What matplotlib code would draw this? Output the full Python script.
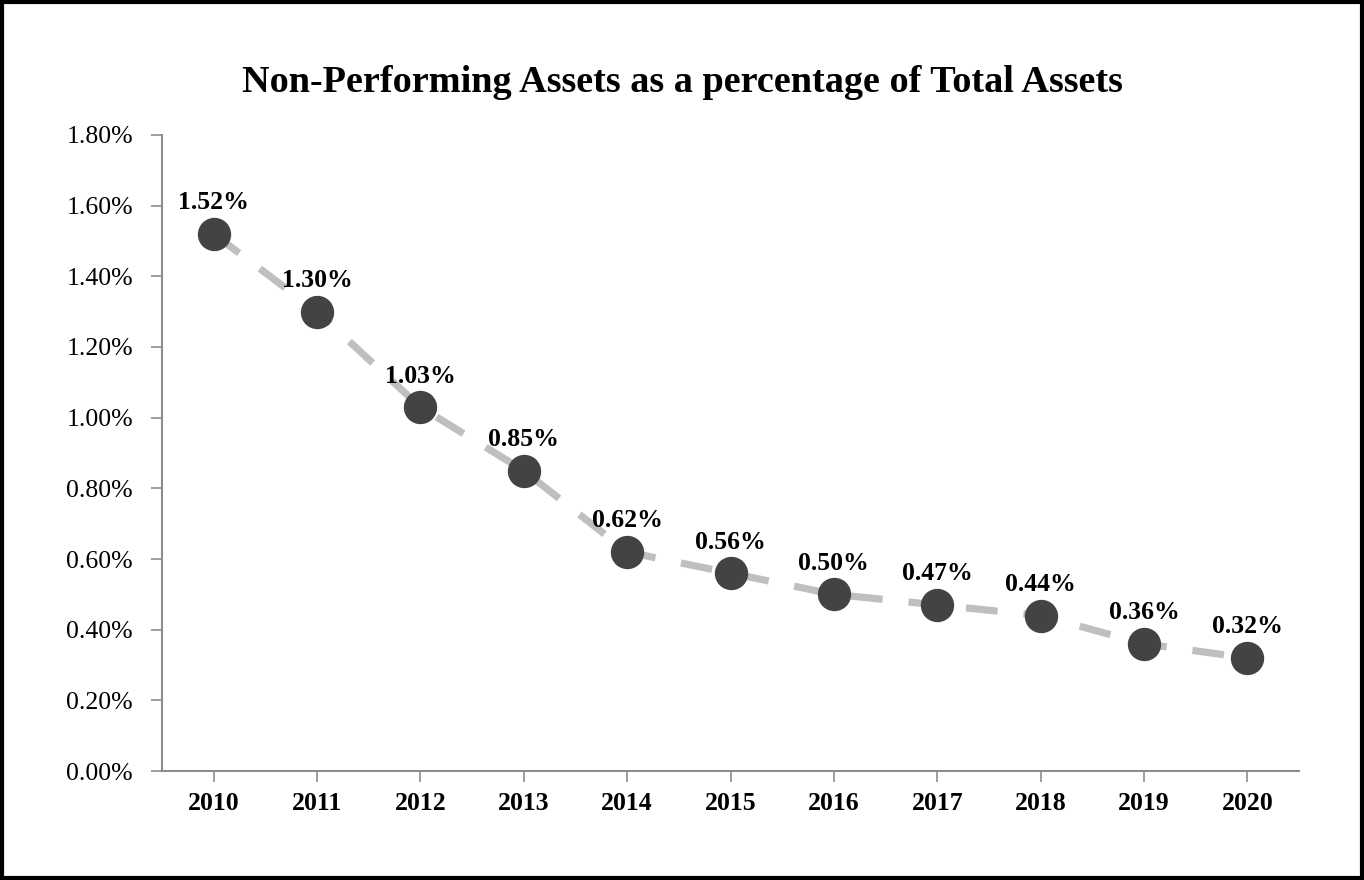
import matplotlib
matplotlib.use("Agg")
import matplotlib.pyplot as plt
from matplotlib.patches import Rectangle
from matplotlib.ticker import FuncFormatter, MultipleLocator

years = ["2010", "2011", "2012", "2013", "2014", "2015", "2016", "2017", "2018", "2019", "2020"]
npa_pct = [1.52, 1.30, 1.03, 0.85, 0.62, 0.56, 0.50, 0.47, 0.44, 0.36, 0.32]
title = "Non-Performing Assets as a percentage of Total Assets"

plt.rcParams['font.family'] = ['Liberation Serif', 'DejaVu Serif']

fig = plt.figure(figsize=(13.64, 8.80), dpi=100)
ax = fig.add_axes([162/1364, 1 - 771/880, (1299-162)/1364, (771-135)/880])

x = list(range(len(years)))
ax.plot(x, npa_pct, color='#bfbfbf', lw=5.2, linestyle=(0, (4.4, 3.6)),
        solid_capstyle='butt', dash_capstyle='butt', zorder=2)
ax.plot(x, npa_pct, linestyle='none', marker='o', markersize=23,
        markerfacecolor='#434343', markeredgecolor='#434343', zorder=3)

for xi, v in zip(x, npa_pct):
    ax.annotate(f"{v:.2f}%", (xi, v), xytext=(0, 14), textcoords='offset points',
                ha='center', va='bottom', fontsize=18.5, fontweight='bold', color='black', zorder=4)

ax.set_xlim(-0.5, len(years) - 0.5)
ax.set_ylim(0, 1.8)
ax.yaxis.set_major_locator(MultipleLocator(0.2))
ax.yaxis.set_major_formatter(FuncFormatter(lambda v, p: f"{v:.2f}%"))
ax.set_xticks(x)
ax.set_xticklabels(years, fontsize=18.5, fontweight='bold')
for lab in ax.get_yticklabels():
    lab.set_fontsize(18.5)

for s in ['top', 'right']:
    ax.spines[s].set_visible(False)
for s in ['left', 'bottom']:
    ax.spines[s].set_color('#8c8c8c')
    ax.spines[s].set_linewidth(1.5)
ax.tick_params(axis='both', direction='out', length=8, width=1.2, color='#8c8c8c', labelcolor='black')
ax.tick_params(axis='y', pad=13)
ax.tick_params(axis='x', pad=7)

fig.text(0.5, 1 - 83/880, title, ha='center', va='center', fontsize=27.5, fontweight='bold')

fig.patches.append(Rectangle((0.0015, 0.002), 0.997, 0.996, transform=fig.transFigure,
                             fill=False, edgecolor='black', linewidth=3))

fig.savefig("out.png", dpi=100)
